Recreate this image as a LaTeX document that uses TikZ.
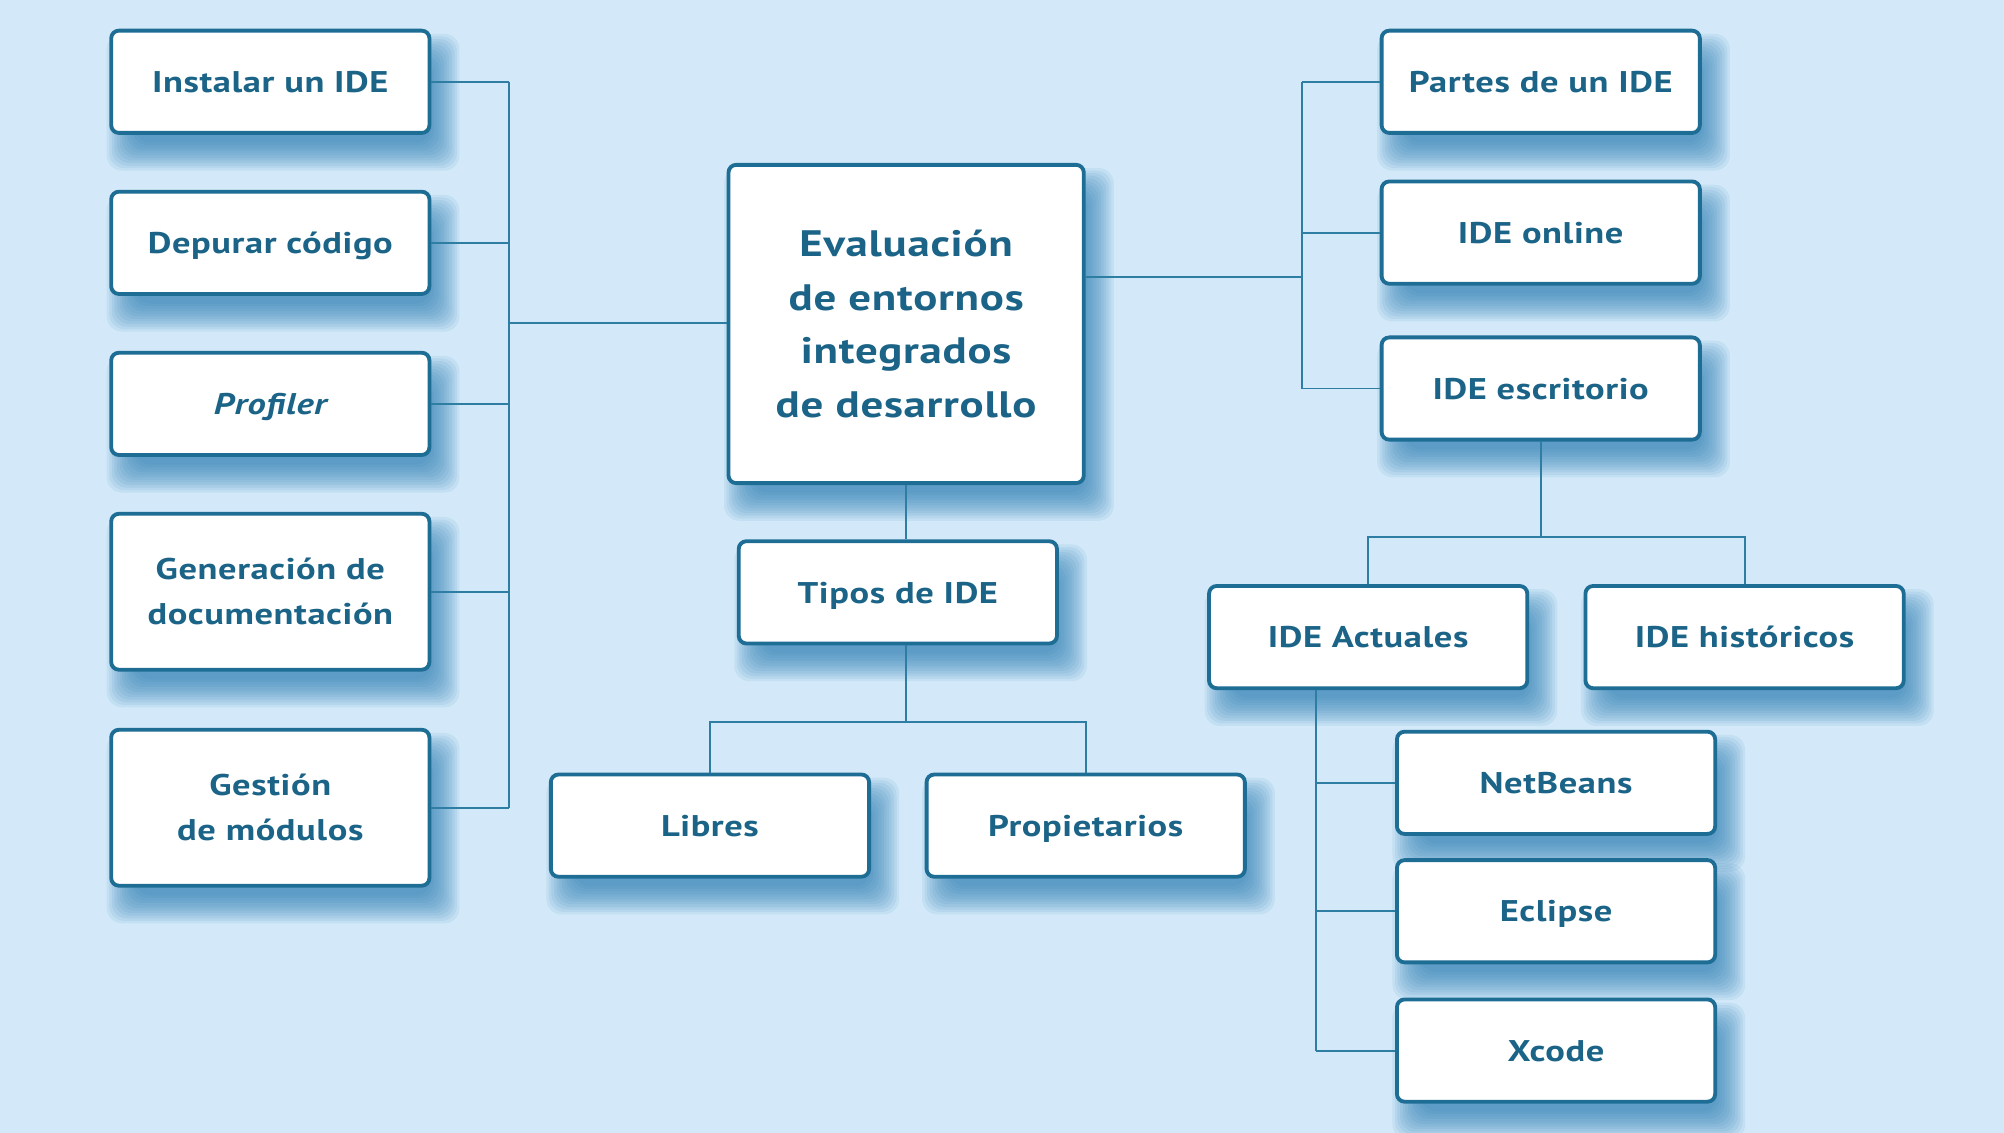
\documentclass[tikz,border=0pt]{standalone}
\usepackage{fontspec}
\setmainfont{PT Sans}[FakeStretch=1.22, LetterSpace=2.0]
\usetikzlibrary{calc}
\definecolor{bgc}{HTML}{D3E9F9}
\definecolor{bordc}{HTML}{1D6D95}
\definecolor{txtc}{HTML}{1B6487}
\definecolor{linec}{HTML}{2E7DA3}
\definecolor{shc}{HTML}{2F80B5}
\pgfdeclarelayer{bg}
\pgfdeclarelayer{shad}
\pgfsetlayers{bg,shad,main}
\tikzset{
  box/.style={draw=bordc, line width=1.5pt, rounded corners=3pt, fill=white,
    text=txtc, font=\bfseries\fontsize{11.7}{17.5}\selectfont, align=center,
    minimum width=124.5pt, minimum height=40pt, inner sep=0pt,
    text height=8.4pt, text depth=0pt},
  tallbox/.style={box, minimum height=61pt, text height=, text depth=},
  bigbox/.style={box, minimum width=139pt, minimum height=124.5pt,
    text height=, text depth=,
    font=\bfseries\fontsize{14.4}{21}\selectfont},
  conn/.style={draw=linec, line width=0.75pt},
}
\begin{document}
\begin{tikzpicture}[x=0.5pt,y=-0.5pt]
\begin{pgfonlayer}{bg}
\fill[bgc] (0,0) rectangle (1568,886.5);
\end{pgfonlayer}
\useasboundingbox (0,0) rectangle (1568,886.5);

% left column
\node[box] (inst) at (211.5,64) {Instalar un IDE};
\node[box] (dep) at (211.5,190) {Depurar código};
\node[box] (prof) at (211.5,316) {\itshape Profiler};
\node[tallbox] (gen) at (211.5,463) {Generación de\\documentación};
\node[tallbox] (gest) at (211.5,632) {Gestión\\de módulos};
% center
\node[bigbox] (eval) at (709,253.5) {Evaluación\\de entornos\\integrados\\de desarrollo};
\node[box] (tipos) at (702.5,463.5) {Tipos de IDE};
\node[box] (lib) at (555.5,646) {Libres};
\node[box] (prop) at (849.5,646) {Propietarios};
% right
\node[box] (partes) at (1205.5,64) {Partes de un IDE};
\node[box] (online) at (1205.5,182) {IDE online};
\node[box] (escr) at (1205.5,304) {IDE escritorio};
\node[box] (actu) at (1070.5,498.5) {IDE Actuales};
\node[box] (hist) at (1365,498.5) {IDE históricos};
\node[box] (nb) at (1217.5,612.5) {NetBeans};
\node[box] (ecl) at (1217.5,713) {Eclipse};
\node[box] (xc) at (1217.5,822) {Xcode};

% shadows
\begin{pgfonlayer}{shad}
\foreach \n in {inst,dep,prof,gen,gest,eval,tipos,lib,prop,partes,online,escr,actu,hist,nb,ecl,xc}{
  \foreach \g in {-5,-4,...,6}{
    \pgfmathsetmacro{\ax}{5-\g}
    \pgfmathsetmacro{\ay}{-8-\g}
    \pgfmathsetmacro{\bx}{5+\g}
    \pgfmathsetmacro{\by}{-8+\g}
    \fill[shc, opacity=0.095, rounded corners=6pt]
      ([shift={(\ax pt,\ay pt)}]\n.south west) rectangle ([shift={(\bx pt,\by pt)}]\n.north east);
  }
}
\end{pgfonlayer}

% connectors left
\coordinate (lbus) at (398,253);
\foreach \n in {inst,dep,prof,gen,gest}{
  \draw[conn] (\n.east) -- (\n.east -| lbus);
}
\draw[conn] (inst.east -| lbus) -- (gest.east -| lbus);
\draw[conn] (eval.west |- lbus) -- (lbus);
% center down
\coordinate (tb) at (709,565);
\draw[conn] (eval.south) -- (eval.south |- tipos.north);
\draw[conn] (tb |- tipos.south) -- (tb);
\draw[conn] (lib.north) |- (prop.north |- tb) -- (prop.north);
% right
\coordinate (rbus) at (1019,217);
\draw[conn] (eval.east |- rbus) -- (rbus);
\foreach \n in {partes,online,escr}{
  \draw[conn] (\n.west) -- (\n.west -| rbus);
}
\draw[conn] (partes.west -| rbus) -- (escr.west -| rbus);
\coordinate (eb) at (1205.5,420);
\draw[conn] (escr.south) -- (eb);
\draw[conn] (actu.north) |- (hist.north |- eb) -- (hist.north);
\coordinate (abus) at (1030,600);
\draw[conn] (actu.south -| abus) -- (xc.west -| abus);
\foreach \n in {nb,ecl,xc}{
  \draw[conn] (\n.west) -- (\n.west -| abus);
}
\end{tikzpicture}
\end{document}
